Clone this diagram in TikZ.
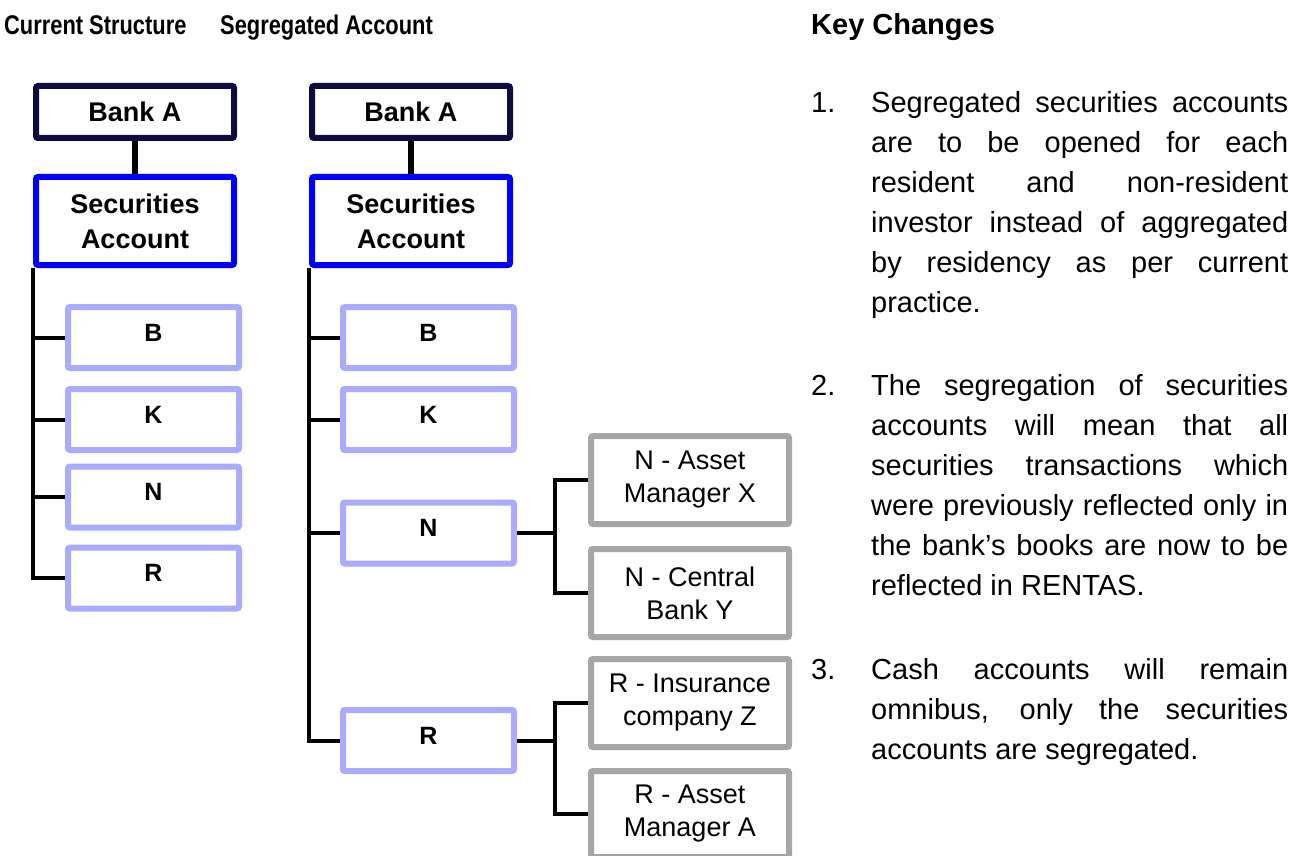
\documentclass[tikz,border=0pt]{standalone}
\usepackage{fontspec}
\setmainfont{Liberation Sans}
\definecolor{navy}{RGB}{12,12,64}
\definecolor{pureblue}{RGB}{0,0,255}
\definecolor{lightblue}{RGB}{170,170,255}
\definecolor{boxgray}{RGB}{166,166,166}
\newcommand\bodyfont{\fontsize{29}{40}\selectfont}
\newcommand\justline[1]{\makebox[\linewidth][s]{#1}}
\begin{document}
\begin{tikzpicture}[x=1pt,y=-1pt,
  box/.style={draw, line width=6pt, rounded corners=2pt, inner sep=0pt, align=center},
  navybox/.style={box, draw=navy, minimum width=198pt, minimum height=52pt, font=\fontsize{27}{35}\selectfont\bfseries},
  secbox/.style={box, draw=pureblue, minimum width=198pt, minimum height=88pt, font=\fontsize{27}{35}\selectfont\bfseries},
  acct/.style={box, draw=lightblue, minimum width=171pt, minimum height=61pt, text depth=10pt, font=\fontsize{25}{30}\selectfont\bfseries},
  inv/.style={box, draw=boxgray, minimum width=198pt, minimum height=88pt, font=\fontsize{27}{33}\selectfont},
  conn/.style={draw=black, line width=4pt},
  head/.style={anchor=base west, inner sep=0pt}
]
\fill[white] (0,0) rectangle (1302,856);
\useasboundingbox (0,0) rectangle (1302,856);

% headers
\node[head] (h1) at (4,35) {\scalebox{0.81}[1]{\fontsize{27}{32}\selectfont\bfseries Current Structure}};
\node[head] (h2) at (220,35) {\scalebox{0.81}[1]{\fontsize{27}{32}\selectfont\bfseries Segregated Account}};
\node[head] (h3) at (811,35) {\fontsize{29}{35}\selectfont\bfseries Key Changes};

% left column
\node[navybox] (bankA1) at (135,112) {Bank A};
\node[secbox] (sec1) at (135,221) {Securities\\Account};
\node[acct] (b1) at (153.5,337.5) {B};
\node[acct] (k1) at (153.5,419.5) {K};
\node[acct] (n1) at (153.5,497) {N};
\node[acct] (r1) at (153.5,578) {R};

\draw[conn, line width=6pt] (bankA1.south) -- (sec1.north);
\draw[conn] (sec1.south west) -- (sec1.south west |- r1.west) -- (r1.west);
\foreach \c in {b1,k1,n1} \draw[conn] (sec1.south west |- \c.west) -- (\c.west);

% middle column
\node[navybox] (bankA2) at (411,112) {Bank A};
\node[secbox] (sec2) at (411,221) {Securities\\Account};
\node[acct] (b2) at (428.5,337.5) {B};
\node[acct] (k2) at (428.5,419.5) {K};
\node[acct] (n2) at (428.5,533) {N};
\node[acct] (r2) at (428.5,740.5) {R};

\node[inv] (nx) at (690,480) {N - Asset\\Manager X};
\node[inv] (nc) at (690,593) {N - Central\\Bank Y};
\node[inv] (ri) at (690,703) {R - Insurance\\company Z};
\node[inv, minimum height=86pt] (ra) at (690,814) {R - Asset\\Manager A};

\draw[conn, line width=6pt] (bankA2.south) -- (sec2.north);
\draw[conn] (sec2.south west) -- (sec2.south west |- r2.west) -- (r2.west);
\foreach \c in {b2,k2,n2} \draw[conn] (sec2.south west |- \c.west) -- (\c.west);

\coordinate (busN) at (555,533);
\coordinate (busR) at (555,740.5);
\draw[conn] (n2.east) -- (busN);
\draw[conn] (nx.west) -| (busN) |- (nc.west);
\draw[conn] (r2.east) -- (busR);
\draw[conn] (ri.west) -| (busR) |- (ra.west);

% key changes text
\node[head, font=\bodyfont] (num1) at (811,113) {1.};
\node[head] (p1) at (871,113) {\parbox[t]{417pt}{\bodyfont
\justline{Segregated securities accounts}\\
\justline{are to be opened for each}\\
\justline{resident and non-resident}\\
\justline{investor instead of aggregated}\\
\justline{by residency as per current}\\
practice.}};

\node[head, font=\bodyfont] (num2) at (811,395) {2.};
\node[head] (p2) at (871,395) {\parbox[t]{417pt}{\bodyfont
\justline{The segregation of securities}\\
\justline{accounts will mean that all}\\
\justline{securities transactions which}\\
\justline{were previously reflected only in}\\
\justline{the bank’s books are now to be}\\
reflected in RENTAS.}};

\node[head, font=\bodyfont] (num3) at (811,679) {3.};
\node[head] (p3) at (871,679) {\parbox[t]{417pt}{\bodyfont
\justline{Cash accounts will remain}\\
\justline{omnibus, only the securities}\\
accounts are segregated.}};
\end{tikzpicture}
\end{document}
